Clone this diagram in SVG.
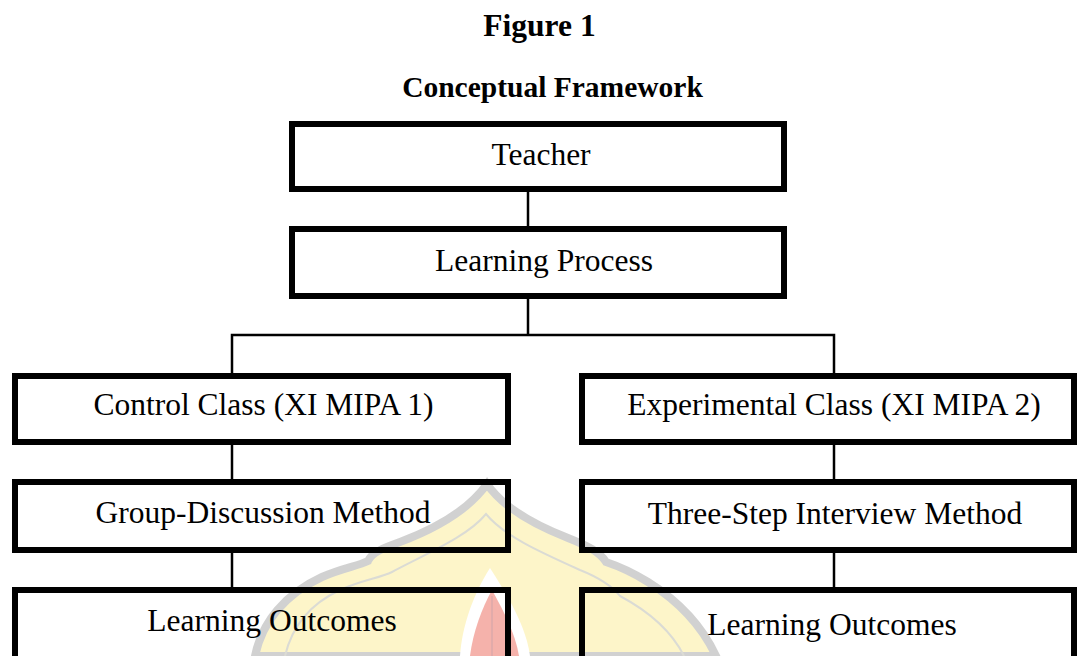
<svg xmlns="http://www.w3.org/2000/svg" width="1077" height="656" viewBox="0 0 1077 656">
  <style>
    .box { fill: none; stroke: #000; stroke-width: 6; }
    .link { fill: none; stroke: #000; stroke-width: 2.5; }
    .lbl { font-family: "Liberation Serif", "Times New Roman", serif; font-size: 31.5px; fill: #000; text-anchor: middle; }
    .title { font-family: "Liberation Serif", "Times New Roman", serif; font-weight: bold; fill: #000; text-anchor: middle; }
  </style>

  <rect width="1077" height="656" fill="#fff"/>

  <!-- faint emblem behind the lower boxes -->
  <g id="emblem" opacity="0.9">
    <path d="M 255 656 C 262 622 285 594 322 577 C 342 568 358 566 368 561 C 372 552 386 547 400 542 C 440 527 470 508 487 484 C 502 506 532 524 568 538 C 588 546 600 552 606 562 C 618 566 632 572 648 582 C 680 602 702 626 716 656 Z" fill="#fdf5c4" stroke="#cdcdcd" stroke-width="8"/>
    <path d="M 285 656 C 292 626 310 604 340 590 C 362 580 380 578 392 572 C 430 552 468 536 486 514 C 504 536 540 552 580 570 C 600 578 612 586 620 596 C 650 612 672 632 684 656" fill="none" stroke="#d8d8d0" stroke-width="2"/>
    <path d="M 460 656 C 462 625 474 593 490 568 C 506 593 526 625 530 656 Z" fill="#fff"/>
    <path d="M 470 656 C 473 632 482 608 492 590 C 502 608 515 632 519 656 Z" fill="#f4aaa2"/>
    <path d="M 492 596 L 492 656" stroke="#d8a0a0" stroke-width="1.5"/>
  </g>

  <text class="title" x="539.5" y="36" font-size="31.5">Figure 1</text>
  <text class="title" x="552.5" y="97" font-size="29.5">Conceptual Framework</text>

  <!-- connectors -->
  <g id="connectors">
    <line class="link" x1="528" y1="192" x2="528" y2="226"/>
    <line class="link" x1="528" y1="299" x2="528" y2="335"/>
    <polyline class="link" points="232,373 232,335 834,335 834,373"/>
    <line class="link" x1="232" y1="445" x2="232" y2="479"/>
    <line class="link" x1="232" y1="553" x2="232" y2="587"/>
    <line class="link" x1="834" y1="445" x2="834" y2="479"/>
    <line class="link" x1="834" y1="553" x2="834" y2="587"/>
  </g>

  <g id="teacher">
    <rect class="box" x="292" y="124" width="492" height="65"/>
    <text class="lbl" x="541" y="165">Teacher</text>
  </g>
  <g id="learning-process">
    <rect class="box" x="292" y="229" width="492" height="67"/>
    <text class="lbl" x="544" y="271">Learning Process</text>
  </g>

  <g id="control-class">
    <rect class="box" x="15" y="376" width="493" height="66"/>
    <text class="lbl" x="263.5" y="415">Control Class (XI MIPA 1)</text>
  </g>
  <g id="group-discussion">
    <rect class="box" x="15" y="482" width="493" height="68"/>
    <text class="lbl" x="263" y="523">Group-Discussion Method</text>
  </g>
  <g id="outcomes-control">
    <rect class="box" x="15" y="590" width="493" height="80"/>
    <text class="lbl" x="272" y="631">Learning Outcomes</text>
  </g>

  <g id="experimental-class">
    <rect class="box" x="582" y="376" width="492" height="66"/>
    <text class="lbl" x="834" y="415">Experimental Class (XI MIPA 2)</text>
  </g>
  <g id="three-step">
    <rect class="box" x="582" y="482" width="492" height="68"/>
    <text class="lbl" x="835" y="524">Three-Step Interview Method</text>
  </g>
  <g id="outcomes-experimental">
    <rect class="box" x="582" y="590" width="492" height="80"/>
    <text class="lbl" x="832" y="635">Learning Outcomes</text>
  </g>
</svg>
